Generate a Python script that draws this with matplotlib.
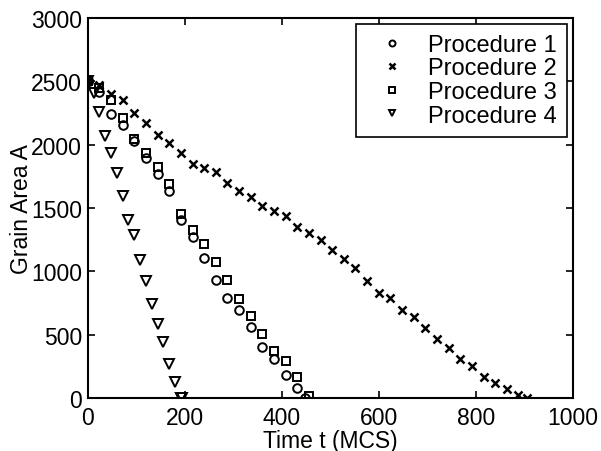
"""Grain area vs time for four procedures (MATLAB-style scatter)."""
import matplotlib
matplotlib.use("Agg")
import matplotlib.pyplot as plt

plt.rcParams["font.family"] = ["Liberation Sans", "DejaVu Sans"]

# Procedure 1 (circles)
t1 = [0, 24, 48, 72, 96, 120, 144, 168, 192, 216, 240, 264, 288, 312, 336,
      360, 384, 408, 432, 447]
a1 = [2500, 2415, 2240, 2155, 2030, 1895, 1765, 1635, 1405, 1270, 1105, 930,
      790, 695, 560, 405, 310, 180, 80, 0]

# Procedure 2 (crosses)
t2 = [0, 24, 48, 72, 96, 120, 144, 168, 192, 216, 240, 264, 288, 312, 336,
      360, 384, 408, 432, 456, 480, 504, 528, 552, 576, 600, 624, 648, 672,
      696, 720, 744, 768, 792, 816, 840, 864, 888, 905]
a2 = [2500, 2475, 2400, 2350, 2250, 2170, 2075, 2010, 1935, 1845, 1815, 1785,
      1695, 1635, 1585, 1515, 1475, 1435, 1350, 1300, 1245, 1170, 1095, 1025,
      925, 830, 790, 695, 640, 550, 465, 395, 310, 255, 165, 120, 70, 25, 0]

# Procedure 3 (squares)
t3 = [0, 24, 48, 72, 96, 120, 144, 168, 192, 216, 240, 264, 288, 312, 336,
      360, 384, 408, 432, 456]
a3 = [2500, 2445, 2350, 2210, 2045, 1935, 1825, 1690, 1450, 1325, 1215, 1075,
      930, 780, 645, 505, 370, 290, 165, 15]

# Procedure 4 (triangles)
t4 = [0, 12, 24, 36, 48, 60, 72, 84, 96, 108, 120, 132, 144, 156, 168, 180,
      192, 193, 194]
a4 = [2500, 2410, 2255, 2070, 1935, 1775, 1595, 1405, 1285, 1090, 925, 740,
      585, 440, 270, 125, 0, 0, 0]

xticks = [0, 200, 400, 600, 800, 1000]
yticks = [0, 500, 1000, 1500, 2000, 2500, 3000]

fig = plt.figure(figsize=(6.01, 4.52), dpi=100)
ax = fig.add_axes([0.146, 0.117, 0.807, 0.841])

style = dict(linestyle="none", color="black", markerfacecolor="none")
ax.plot(t1, a1, marker="o", markersize=6.2, markeredgewidth=1.4,
        label="Procedure 1", **style)
ax.plot(t2, a2, marker="x", markersize=5.5, markeredgewidth=1.8,
        label="Procedure 2", **style)
ax.plot(t3, a3, marker="s", markersize=5.5, markeredgewidth=1.4,
        label="Procedure 3", **style)
ax.plot(t4, a4, marker="v", markersize=6.5, markeredgewidth=1.4,
        label="Procedure 4", **style)
ax.plot([0], [2500], marker="o", markersize=7, color="black", linestyle="none")

ax.set_xlim(0, 1000)
ax.set_ylim(0, 3000)
ax.set_xticks(xticks)
ax.set_yticks(yticks)
ax.tick_params(direction="in", length=5, width=1.2, top=True, right=True,
               labelsize=16.5)
ax.tick_params(axis="x", pad=6)
ax.tick_params(axis="y", pad=4)
for sp in ax.spines.values():
    sp.set_linewidth(1.5)

ax.set_xlabel("Time t (MCS)", fontsize=16.5, labelpad=0)
ax.set_ylabel("Grain Area A", fontsize=16.5, labelpad=-1)

leg = ax.legend(loc="upper right", fontsize=17, frameon=True, fancybox=False,
                edgecolor="black", framealpha=1, borderpad=0.42,
                labelspacing=0.07, handletextpad=0.45, handlelength=2.2,
                borderaxespad=0.25, markerscale=0.7)
leg.get_frame().set_linewidth(1.2)

fig.savefig("out.png", dpi=100)
